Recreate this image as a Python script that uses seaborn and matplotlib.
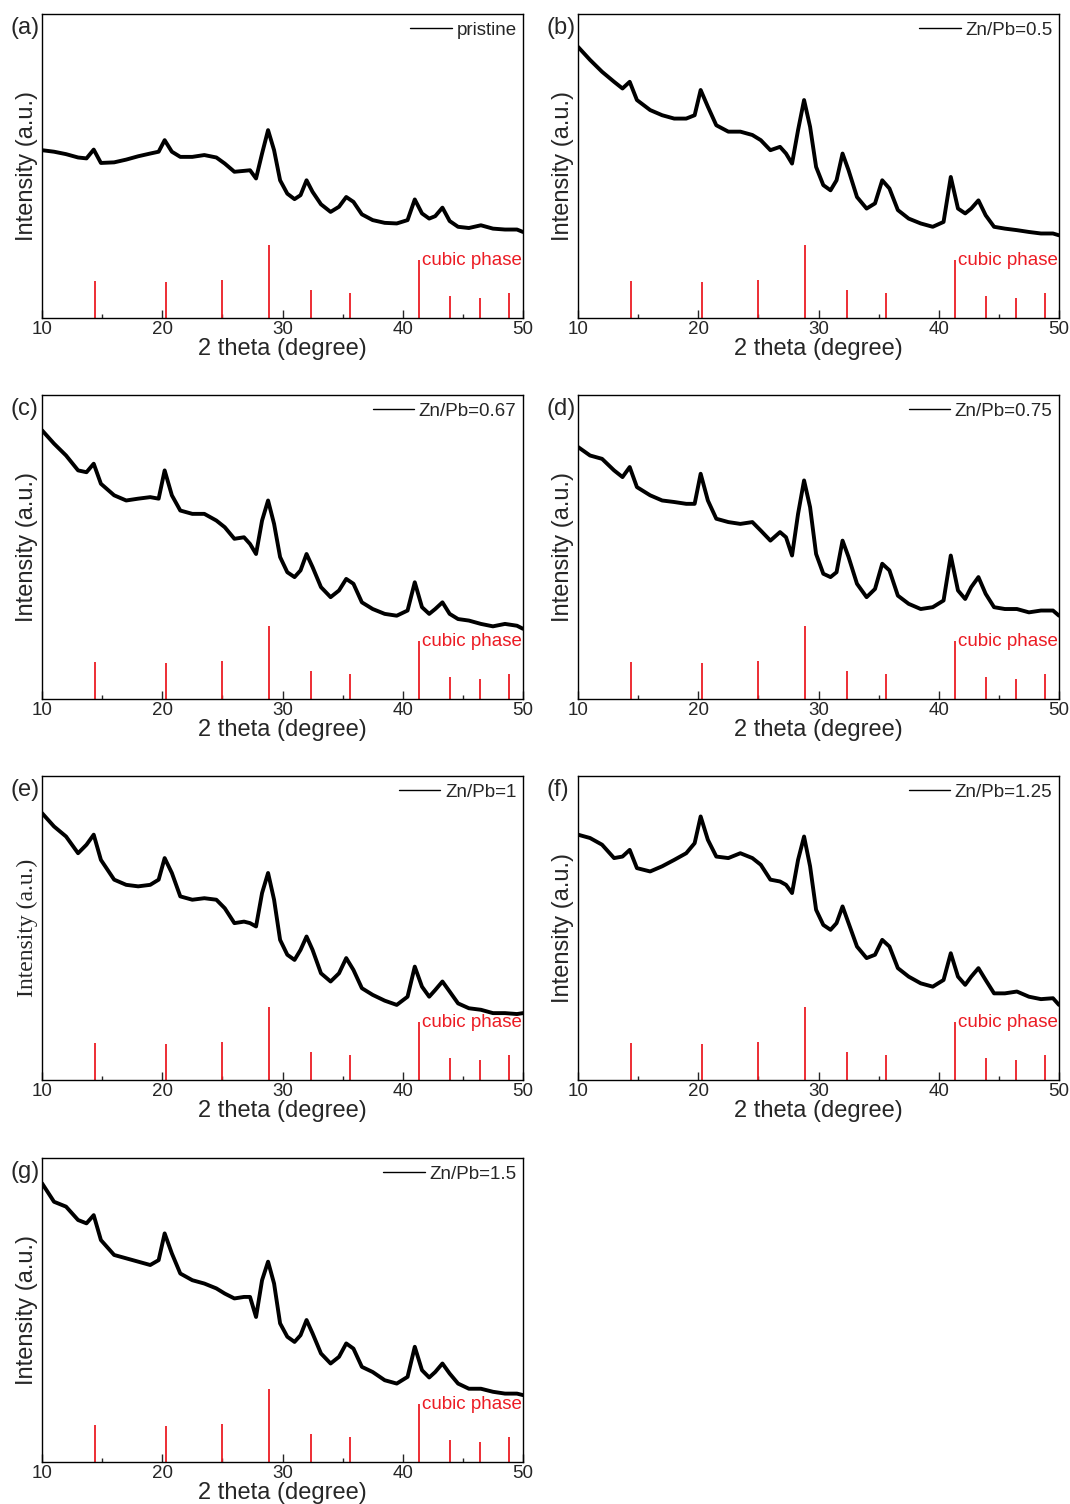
import matplotlib
matplotlib.use("Agg")
import matplotlib.pyplot as plt
import seaborn as sns
import pandas as pd
from matplotlib.ticker import MultipleLocator

sns.set_style("ticks")
plt.rcParams["font.family"] = ["Liberation Sans", "DejaVu Sans"]

# shared 2-theta sampling (degree)
two_theta = [10, 11, 12, 13, 13.7, 14.3, 14.9, 16, 17, 18, 19, 19.7, 20.2, 20.8, 21.5,
             22.5, 23.5, 24.5, 25.2, 26, 26.8, 27.3, 27.8, 28.3, 28.8, 29.3, 29.8, 30.4,
             31, 31.5, 32.0, 32.5, 33.2, 34, 34.7, 35.3, 35.9, 36.6, 37.5, 38.5, 39.5,
             40.4, 41.0, 41.6, 42.2, 42.7, 43.3, 43.9, 44.6, 45.5, 46.5, 47.5, 48.5,
             49.5, 50]

int_pristine = [55.2, 54.7, 53.9, 52.8, 52.5, 55.4, 51.0, 51.2, 52.1, 53.2, 54.1, 54.7, 58.5,
                54.7, 53.0, 53.0, 53.6, 52.8, 50.8, 48.1, 48.4, 48.6, 45.9, 54.1, 61.8, 55.2,
                45.3, 40.9, 39.1, 40.4, 45.3, 41.5, 37.4, 34.9, 36.6, 39.8, 38.2, 34.1, 32.2,
                31.3, 31.1, 32.2, 39.0, 34.4, 32.7, 33.5, 36.3, 31.9, 30.0, 29.6, 30.5, 29.4,
                29.1, 29.1, 28.3]
int_050 = [89.2, 84.9, 81.0, 77.7, 75.5, 77.7, 71.7, 68.4, 66.7, 65.6, 65.6, 66.7, 75.0, 69.5,
           63.4, 61.3, 61.3, 60.2, 58.5, 55.2, 56.3, 54.1, 50.8, 61.8, 71.7, 62.9, 49.7, 43.7,
           42.0, 45.3, 54.1, 48.6, 39.8, 36.0, 37.7, 45.3, 42.6, 35.5, 32.7, 31.1, 30.0, 31.6,
           46.4, 36.0, 34.4, 36.0, 38.7, 33.8, 30.0, 29.4, 28.9, 28.3, 27.8, 27.8, 27.2]
int_067 = [88.4, 84.0, 80.1, 75.2, 74.6, 77.4, 70.8, 67.0, 65.3, 65.9, 66.4, 65.9, 75.2, 67.0,
           62.0, 60.9, 60.9, 58.7, 56.5, 52.7, 53.2, 51.0, 47.7, 58.7, 65.3, 57.6, 46.7, 41.7,
           40.1, 42.3, 47.7, 43.4, 36.8, 33.5, 35.7, 39.5, 37.9, 31.8, 29.6, 28.0, 27.4, 29.1,
           38.4, 30.2, 28.0, 29.6, 31.8, 28.0, 26.3, 25.8, 24.7, 23.9, 24.7, 24.1, 23.1]
int_075 = [82.9, 80.1, 79.0, 75.2, 73.0, 76.3, 69.7, 67.0, 65.3, 64.8, 64.2, 64.2, 74.1, 65.3,
           59.3, 58.2, 57.6, 58.2, 55.4, 52.1, 54.9, 53.2, 47.2, 60.9, 71.9, 63.1, 47.7, 41.2,
           40.1, 41.7, 52.1, 46.7, 37.9, 33.5, 36.2, 44.5, 42.3, 34.0, 31.3, 29.6, 30.2, 32.4,
           47.2, 35.7, 32.9, 36.8, 40.1, 34.6, 30.2, 29.6, 29.6, 28.5, 29.1, 29.1, 27.4]
int_100 = [87.8, 83.4, 80.1, 74.6, 77.4, 80.7, 72.4, 65.9, 64.2, 63.7, 64.2, 65.9, 73.0, 68.1,
           60.4, 59.3, 59.8, 59.3, 56.5, 51.6, 52.1, 51.6, 50.5, 61.5, 68.1, 59.3, 46.1, 41.2,
           39.5, 42.8, 47.2, 42.8, 35.1, 32.4, 35.1, 40.1, 36.2, 30.2, 28.0, 26.1, 24.7, 27.4,
           37.3, 30.7, 27.4, 29.6, 32.4, 29.1, 25.2, 23.6, 23.1, 22.0, 22.0, 21.7, 22.0]
int_125 = [80.7, 79.6, 77.4, 73.0, 73.5, 75.7, 69.7, 68.6, 70.3, 72.4, 74.6, 77.9, 86.7, 79.0,
           73.5, 73.0, 74.6, 73.0, 70.8, 65.9, 65.3, 64.2, 61.5, 72.4, 80.1, 70.3, 56.0, 51.0,
           49.4, 51.6, 57.1, 51.6, 43.9, 40.1, 41.2, 46.1, 43.9, 36.8, 34.0, 31.8, 30.7, 32.9,
           41.7, 34.0, 31.3, 34.0, 36.8, 32.9, 28.5, 28.5, 29.1, 27.4, 26.6, 26.9, 24.7]
int_150 = [91.7, 85.6, 84.0, 79.6, 78.5, 81.2, 73.0, 68.1, 67.0, 65.9, 64.8, 66.4, 75.2, 68.6,
           62.0, 59.8, 58.7, 57.1, 55.4, 53.8, 54.3, 54.3, 47.7, 59.8, 65.9, 58.7, 45.6, 41.2,
           39.5, 41.7, 46.7, 42.3, 35.7, 32.4, 34.6, 39.0, 37.3, 31.3, 29.6, 26.9, 25.8, 28.0,
           37.9, 30.2, 27.8, 29.6, 32.4, 29.1, 25.8, 24.1, 24.1, 23.1, 22.5, 22.5, 22.0]

# reference cubic phase sticks
ref_pos = [14.4, 20.35, 25.0, 28.9, 32.4, 35.6, 41.35, 43.95, 46.45, 48.85]
ref_int = [12.1, 11.9, 12.4, 23.9, 9.1, 8.3, 19.0, 7.1, 6.6, 8.1]

panel_letters = ["(a)", "(b)", "(c)", "(d)", "(e)", "(f)", "(g)"]
sample_labels = ["pristine", "Zn/Pb=0.5", "Zn/Pb=0.67", "Zn/Pb=0.75",
                 "Zn/Pb=1", "Zn/Pb=1.25", "Zn/Pb=1.5"]
series = [int_pristine, int_050, int_067, int_075, int_100, int_125, int_150]

W, H = 1070, 1504
fig = plt.figure(figsize=(W / 100, H / 100), dpi=100)

col_left = [42, 578]
ax_w = 481
row_top = [14, 395, 776, 1158]
ax_h = 304

red = "#ec1c24"

for i, (letter, lab, ys) in enumerate(zip(panel_letters, sample_labels, series)):
    r, c = divmod(i, 2)
    l = col_left[c]
    t = row_top[r]
    ax = fig.add_axes([l / W, 1 - (t + ax_h) / H, ax_w / W, ax_h / H])
    df = pd.DataFrame({"two_theta": two_theta, "intensity": ys})
    sns.lineplot(data=df, x="two_theta", y="intensity", ax=ax, color="black",
                 linewidth=2.8, label=lab, sort=True)
    ax.vlines(ref_pos, 0, ref_int, color=red, linewidth=1.3)
    ax.text(ref_pos[6] + 0.25, ref_int[6] - 1.6, "cubic phase", color=red,
            fontsize=13.5, ha="left", va="baseline")
    ax.set_xlim(10, 50)
    ax.set_ylim(0, 100)
    ax.xaxis.set_major_locator(MultipleLocator(10))
    ax.xaxis.set_minor_locator(MultipleLocator(5))
    ax.tick_params(axis="x", which="major", direction="in", length=6, width=1,
                   labelsize=13.5, pad=2)
    ax.tick_params(axis="x", which="minor", direction="in", length=3, width=1)
    ax.set_yticks([])
    for s in ax.spines.values():
        s.set_visible(True)
        s.set_linewidth(1.0)
        s.set_color("black")
    ax.set_xlabel("2 theta (degree)", fontsize=17, labelpad=0)
    if letter == "(e)":
        ax.set_ylabel("Intensity (a.u.)", fontsize=17, labelpad=3,
                      family=["Liberation Serif", "DejaVu Serif"])
    else:
        ax.set_ylabel("Intensity (a.u.)", fontsize=17, labelpad=3)
    leg = ax.legend(loc="upper right", frameon=False, fontsize=13.5, handlelength=2.2,
                    borderaxespad=0.15, borderpad=0.2, handletextpad=0.25,
                    bbox_to_anchor=(1.0, 0.997))
    for h in leg.get_lines():
        h.set_linewidth(1.0)
    fig.text((l - 32) / W, 1 - (t + 14) / H, letter, fontsize=17, ha="left", va="center")

fig.savefig("out.png", dpi=100)
